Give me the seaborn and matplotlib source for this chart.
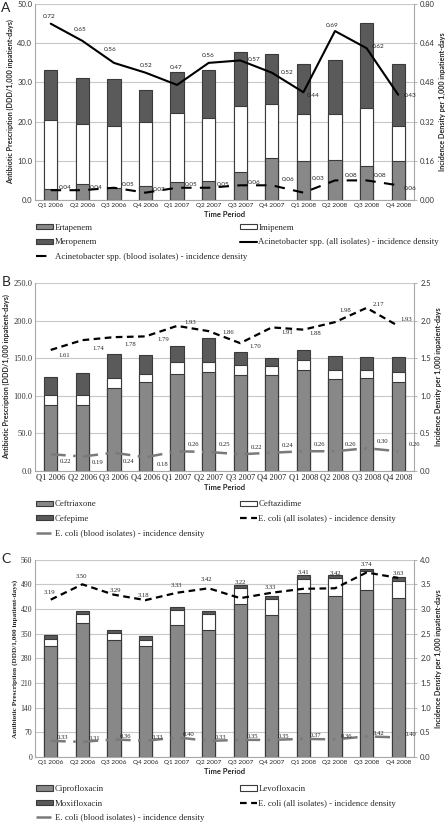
import numpy as np
import matplotlib
matplotlib.use("Agg")
import matplotlib.pyplot as plt
import seaborn as sns
from matplotlib.patches import Patch
from matplotlib.lines import Line2D

sns.set_style("white")
plt.rcParams['font.family'] = ['Lato', 'DejaVu Sans']

SANS = ['Lato', 'DejaVu Sans']
SERIF = ['Liberation Serif', 'DejaVu Serif']

quarters = ["Q1 2006", "Q2 2006", "Q3 2006", "Q4 2006",
            "Q1 2007", "Q2 2007", "Q3 2007", "Q4 2007",
            "Q1 2008", "Q2 2008", "Q3 2008", "Q4 2008"]

# ---------------- panel A data ----------------
ertapenem = [2.7, 4.1, 3.1, 3.6, 4.6, 4.9, 7.2, 10.6, 9.9, 10.2, 8.6, 9.9]
imipenem = [17.6, 15.2, 15.9, 16.3, 17.7, 16.1, 16.8, 13.9, 12.1, 11.8, 14.8, 9.1]
meropenem = [13.0, 11.8, 12.0, 8.2, 10.3, 12.3, 13.8, 12.7, 12.6, 13.8, 21.9, 15.6]
acin_all = [0.72, 0.65, 0.56, 0.52, 0.47, 0.56, 0.57, 0.52, 0.44, 0.69, 0.62, 0.43]
acin_blood = [0.04, 0.04, 0.05, 0.03, 0.05, 0.05, 0.06, 0.06, 0.03, 0.08, 0.08, 0.06]

# ---------------- panel B data ----------------
ceftriaxone = [87.0, 87.0, 110.0, 118.0, 129.5, 131.6, 127.5, 127.0, 134.5, 122.0, 123.0, 118.0]
ceftazidime = [13.5, 14.5, 13.4, 11.5, 16.0, 13.9, 12.9, 12.6, 12.9, 12.0, 11.3, 13.0]
cefepime = [24.2, 28.5, 32.3, 24.5, 20.2, 31.1, 17.4, 10.4, 13.9, 18.6, 17.4, 20.0]
ecoli_all_b = [1.61, 1.74, 1.78, 1.79, 1.93, 1.86, 1.70, 1.91, 1.88, 1.98, 2.17, 1.93]
ecoli_blood_b = [0.22, 0.19, 0.24, 0.18, 0.26, 0.25, 0.22, 0.24, 0.26, 0.26, 0.30, 0.26]

# ---------------- panel C data ----------------
ciprofloxacin = [316, 380, 331, 314, 376, 360, 435, 403, 465, 458, 475, 452]
levofloxacin = [20, 26, 22, 19, 42, 47, 46, 46, 40, 49, 52, 48]
moxifloxacin = [10, 9, 8, 11, 7, 6, 7, 8, 12, 9, 6, 10]
ecoli_all_c = [3.19, 3.50, 3.29, 3.18, 3.33, 3.42, 3.22, 3.33, 3.41, 3.42, 3.74, 3.63]
ecoli_blood_c = [0.33, 0.31, 0.36, 0.33, 0.40, 0.33, 0.35, 0.35, 0.37, 0.36, 0.42, 0.40]

BAR_COLORS = ['#888888', '#ffffff', '#5a5a5a']
EDGE = '#3a3a3a'
GRID = '#c8c8c8'
SPINE = '#a8a8a8'
BLOOD_DASH = (0, (6, 3, 1, 3))

# label offsets in pixels (style, not data)
off_a_all = [(-2, 7), (-2, 11), (-4, 13), (1, 7), (-1, 17), (-1, 7),
             (14, 1), (15, 0), (10, -3), (-3, 6), (12, 2), (12, -1)]
off_a_blood = [(14, 3)] * 7 + [(16, 6), (15, 14), (16, 5), (13, 5), (12, -3)]
off_b_all = [(13, -6), (16, -8), (16, -7), (18, -3), (13, 3), (20, -1),
             (15, -3), (15, -5), (12, -4), (10, 12), (12, 3), (8, 6)]
off_b_blood = [(15, -7), (15, -6), (15, -9), (17, -7)] + [(16, 7)] * 8
off_c_all = [(-1, 7), (-1, 8), (2, 4), (-2, 5), (-1, 7), (-2, 9),
             (0, 16), (-1, 5), (0, 16), (0, 15), (0, 8), (0, 4)]
off_c_blood = [(12, 3)] * 12


def draw_stack(ax, parts):
    # cumulative layers, tallest first, so lower segments paint over
    cum = np.cumsum(np.array(parts, dtype=float), axis=0)
    for lev in range(len(parts) - 1, -1, -1):
        sns.barplot(x=quarters, y=cum[lev], color=BAR_COLORS[lev], saturation=1,
                    edgecolor=EDGE, linewidth=0.8, width=0.42, errorbar=None,
                    ax=ax, zorder=2)


def put_labels(ax, vals, fmt, offsets, family, size):
    for i, (v, off) in enumerate(zip(vals, offsets)):
        ax.annotate(fmt.format(v), (i, v), xytext=off, textcoords='offset pixels',
                    ha='center', va='center', fontsize=size, family=family,
                    color='#222222', zorder=6)


def style_axes(ax, ax2, ylim, yticks, yfmt, rlim, rticks, rfmt,
               left_family, left_size, x_family, x_size, ylab_family):
    ax.set_xlim(-0.5, 11.5)
    ax.set_ylim(*ylim)
    ax.set_yticks(yticks)
    ax.set_yticklabels([yfmt.format(t) for t in yticks], family=left_family,
                       fontsize=left_size, color='#333333')
    ax.set_xticks(range(len(quarters)))
    ax.set_xticklabels(quarters, family=x_family, fontsize=x_size, color='#222222')
    ax.tick_params(axis='both', length=0, pad=2)
    ax.yaxis.grid(True, color=GRID, lw=0.8)
    ax.set_axisbelow(True)
    for s in ['top', 'right']:
        ax.spines[s].set_visible(False)
    for s in ['left', 'bottom']:
        ax.spines[s].set_color(SPINE)
        ax.spines[s].set_linewidth(0.8)
    ax.set_xlabel("Time Period", fontsize=5.5, fontweight='bold', family=SANS, labelpad=2)
    ax.set_ylabel("Antibiotic Prescription (DDD/1,000 inpatient-days)", fontsize=5.2,
                  fontweight='bold', family=ylab_family, labelpad=2)

    ax2.set_ylim(*rlim)
    ax2.set_yticks(rticks)
    ax2.set_yticklabels([rfmt.format(t) for t in rticks], family=SANS,
                        fontsize=5.5, color='#333333')
    ax2.tick_params(axis='y', length=2.5, width=0.6, color=SPINE, pad=2)
    for s in ['top', 'left', 'bottom']:
        ax2.spines[s].set_visible(False)
    ax2.spines['right'].set_color(SPINE)
    ax2.spines['right'].set_linewidth(0.8)
    ax2.set_ylabel("Incidence Density per 1,000 inpatient-days", fontsize=5.2,
                   fontweight='bold', family=SANS, labelpad=3)


def add_legend(fig, top, names, line_handles):
    bar_handles = [Patch(facecolor=c, edgecolor=EDGE, lw=0.8) for c in BAR_COLORS]
    col1 = [bar_handles[0], bar_handles[2], line_handles[1]]
    lab1 = [names[0], names[2], names[4]]
    col2 = [bar_handles[1], line_handles[0]]
    lab2 = [names[1], names[3]]
    kw = dict(loc='upper left', frameon=False, prop={'family': SERIF, 'size': 6.3},
              handlelength=2.0, handleheight=0.55, handletextpad=0.15,
              labelspacing=0.75, borderaxespad=0, borderpad=0)
    fig.legend(col1, lab1, bbox_to_anchor=(0.08, top), **kw)
    fig.legend(col2, lab2, bbox_to_anchor=(0.535, top), **kw)


fig = plt.figure(figsize=(4.48, 8.23), dpi=100)
x_idx = np.arange(len(quarters))

# ---------------- A: carbapenems ----------------
axA = fig.add_axes([0.078, 0.757, 0.846, 0.238])
draw_stack(axA, [ertapenem, imipenem, meropenem])
axA2 = axA.twinx()
sns.lineplot(x=x_idx, y=acin_all, ax=axA2, color='black', lw=1.5)
sns.lineplot(x=x_idx, y=acin_blood, ax=axA2, color='black', lw=1.5,
             linestyle=(0, (5, 4)))
style_axes(axA, axA2, (0, 50), np.arange(0, 51, 10), "{:.1f}", (0, 0.8),
           np.linspace(0, 0.8, 6), "{:.2f}", SANS, 5.5, SANS, 4.6, SANS)
put_labels(axA2, acin_all, "{:.2f}", off_a_all, SANS, 4.6)
put_labels(axA2, acin_blood, "{:.2f}", off_a_blood, SANS, 4.6)
fig.text(0.003, 0.998, "A", fontsize=10, va='top', family=SANS)
add_legend(fig, 0.728,
           ["Ertapenem", "Imipenem", "Meropenem",
            "Acinetobacter spp. (all isolates) - incidence density",
            "Acinetobacter spp. (blood isolates) - incidence density"],
           [Line2D([], [], color='black', lw=1.5),
            Line2D([], [], color='black', lw=1.5, linestyle=(0, (5, 4)))])

# ---------------- B: cephalosporins ----------------
axB = fig.add_axes([0.078, 0.428, 0.846, 0.228])
draw_stack(axB, [ceftriaxone, ceftazidime, cefepime])
axB2 = axB.twinx()
sns.lineplot(x=x_idx, y=ecoli_all_b, ax=axB2, color='black', lw=1.6,
             linestyle=(0, (3, 2)))
sns.lineplot(x=x_idx, y=ecoli_blood_b, ax=axB2, color='#7a7a7a', lw=1.8,
             linestyle=BLOOD_DASH)
style_axes(axB, axB2, (0, 250), np.arange(0, 251, 50), "{:.1f}", (0, 2.5),
           np.linspace(0, 2.5, 6), "{:.1f}", SERIF, 6, SERIF, 6, SANS)
put_labels(axB2, ecoli_all_b, "{:.2f}", off_b_all, SERIF, 4.8)
put_labels(axB2, ecoli_blood_b, "{:.2f}", off_b_blood, SERIF, 4.8)
fig.text(0.003, 0.665, "B", fontsize=10, va='top', family=SANS)
add_legend(fig, 0.392,
           ["Ceftriaxone", "Ceftazidime", "Cefepime",
            "E. coli (all isolates) - incidence density",
            "E. coli (blood isolates) - incidence density"],
           [Line2D([], [], color='black', lw=1.6, linestyle=(0, (3, 2))),
            Line2D([], [], color='#7a7a7a', lw=1.8, linestyle=BLOOD_DASH)])

# ---------------- C: fluoroquinolones ----------------
axC = fig.add_axes([0.078, 0.080, 0.846, 0.240])
draw_stack(axC, [ciprofloxacin, levofloxacin, moxifloxacin])
axC2 = axC.twinx()
sns.lineplot(x=x_idx, y=ecoli_all_c, ax=axC2, color='black', lw=1.6,
             linestyle=(0, (3, 2)))
sns.lineplot(x=x_idx, y=ecoli_blood_c, ax=axC2, color='#7a7a7a', lw=1.8,
             linestyle=BLOOD_DASH)
style_axes(axC, axC2, (0, 560), np.arange(0, 561, 70), "{:d}", (0, 4.0),
           np.linspace(0, 4.0, 9), "{:.1f}", SERIF, 5.5, SANS, 4.6, SERIF)
put_labels(axC2, ecoli_all_c, "{:.2f}", off_c_all, SERIF, 4.8)
put_labels(axC2, ecoli_blood_c, "{:.2f}", off_c_blood, SERIF, 4.8)
fig.text(0.003, 0.328, "C", fontsize=10, va='top', family=SANS)
add_legend(fig, 0.046,
           ["Ciprofloxacin", "Levofloxacin", "Moxifloxacin",
            "E. coli (all isolates) - incidence density",
            "E. coli (blood isolates) - incidence density"],
           [Line2D([], [], color='black', lw=1.6, linestyle=(0, (3, 2))),
            Line2D([], [], color='#7a7a7a', lw=1.8, linestyle=BLOOD_DASH)])

fig.savefig("out.png", dpi=100)
